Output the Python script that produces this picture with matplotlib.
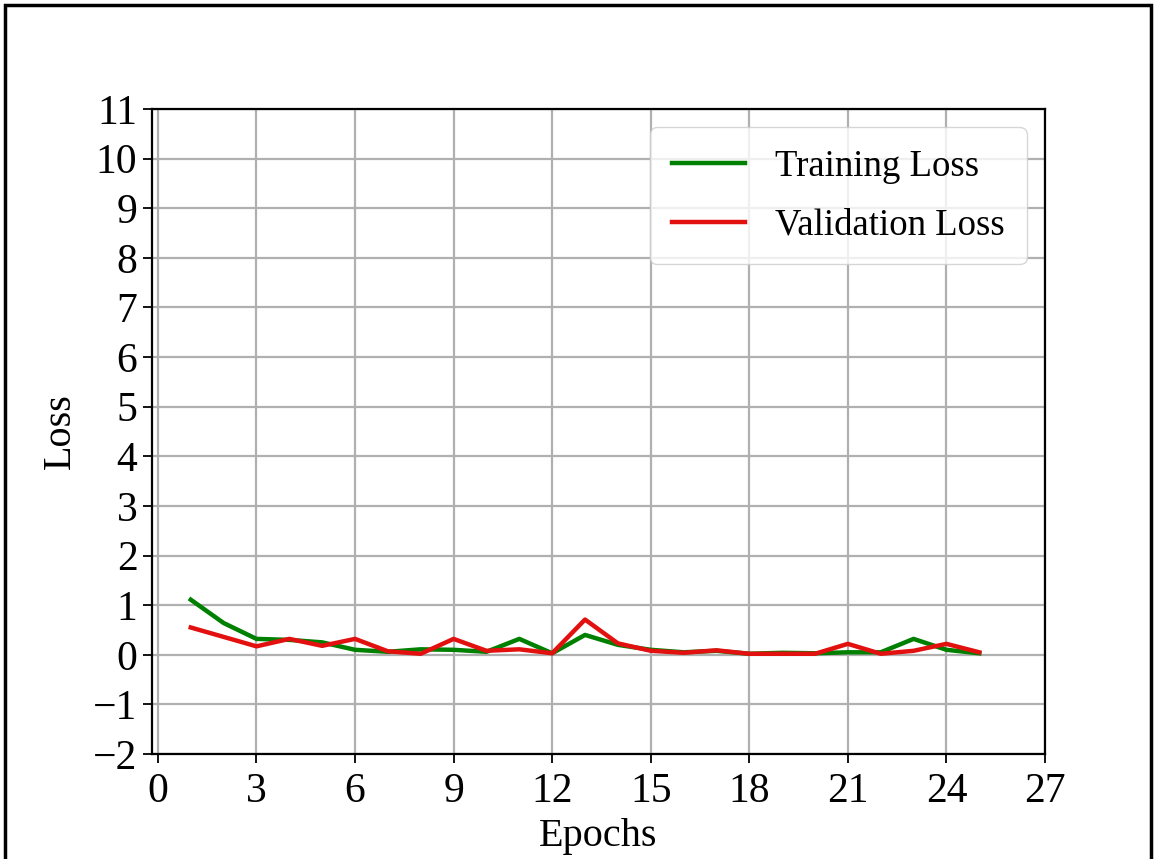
import matplotlib
matplotlib.use('Agg')
import matplotlib.pyplot as plt
from matplotlib.patches import Rectangle

plt.rcParams['font.family'] = ['Liberation Serif', 'DejaVu Serif']
plt.rcParams['mathtext.fontset'] = 'stix'

# values
epochs = list(range(1, 26))
train_loss = [1.11, 0.64, 0.32, 0.30, 0.25, 0.10, 0.06, 0.11, 0.10, 0.06,
              0.32, 0.03, 0.40, 0.20, 0.10, 0.05, 0.08, 0.02, 0.04, 0.03,
              0.05, 0.05, 0.32, 0.10, 0.03]
val_loss = [0.55, 0.36, 0.17, 0.32, 0.18, 0.32, 0.07, 0.02, 0.32, 0.08,
            0.11, 0.03, 0.71, 0.23, 0.08, 0.04, 0.09, 0.02, 0.02, 0.02,
            0.22, 0.02, 0.08, 0.22, 0.05]
x_ticks = list(range(0, 28, 3))
y_ticks = list(range(-2, 12))

W, H = 1156, 859
fig = plt.figure(figsize=(W / 100, H / 100), dpi=100)
ax = fig.add_axes([152 / W, 1 - 754 / H, (1045 - 152) / W, (754 - 109) / H])

ax.plot(epochs, train_loss, color='green', lw=3.2, label='Training Loss')
ax.plot(epochs, val_loss, color='#e31010', lw=3.2, label='Validation Loss')

ax.set_xlim(-0.18, 27)
ax.set_ylim(-2, 11)
ax.set_xticks(x_ticks)
ax.set_yticks(y_ticks)
ax.grid(True, color='#b0b0b0', lw=1.6)
ax.tick_params(labelsize=30, length=6.5, width=1.3)
ax.tick_params(axis='x', pad=7)
ax.tick_params(axis='y', pad=4)
for s in ax.spines.values():
    s.set_linewidth(1.6)

ax.set_xlabel('Epochs', fontsize=29, labelpad=5)
ax.set_ylabel('Loss', fontsize=29, labelpad=10)
ax.legend(loc='upper right', fontsize=26.5, labelspacing=0.65, borderpad=0.6)

# outer black frame of the figure
fig.patches.append(Rectangle((5 / W, -0.05), (1151 - 5) / W, 1.05 - 5 / H,
                             transform=fig.transFigure, fill=False,
                             edgecolor='black', lw=2.5))

fig.savefig('out.png', dpi=100)
